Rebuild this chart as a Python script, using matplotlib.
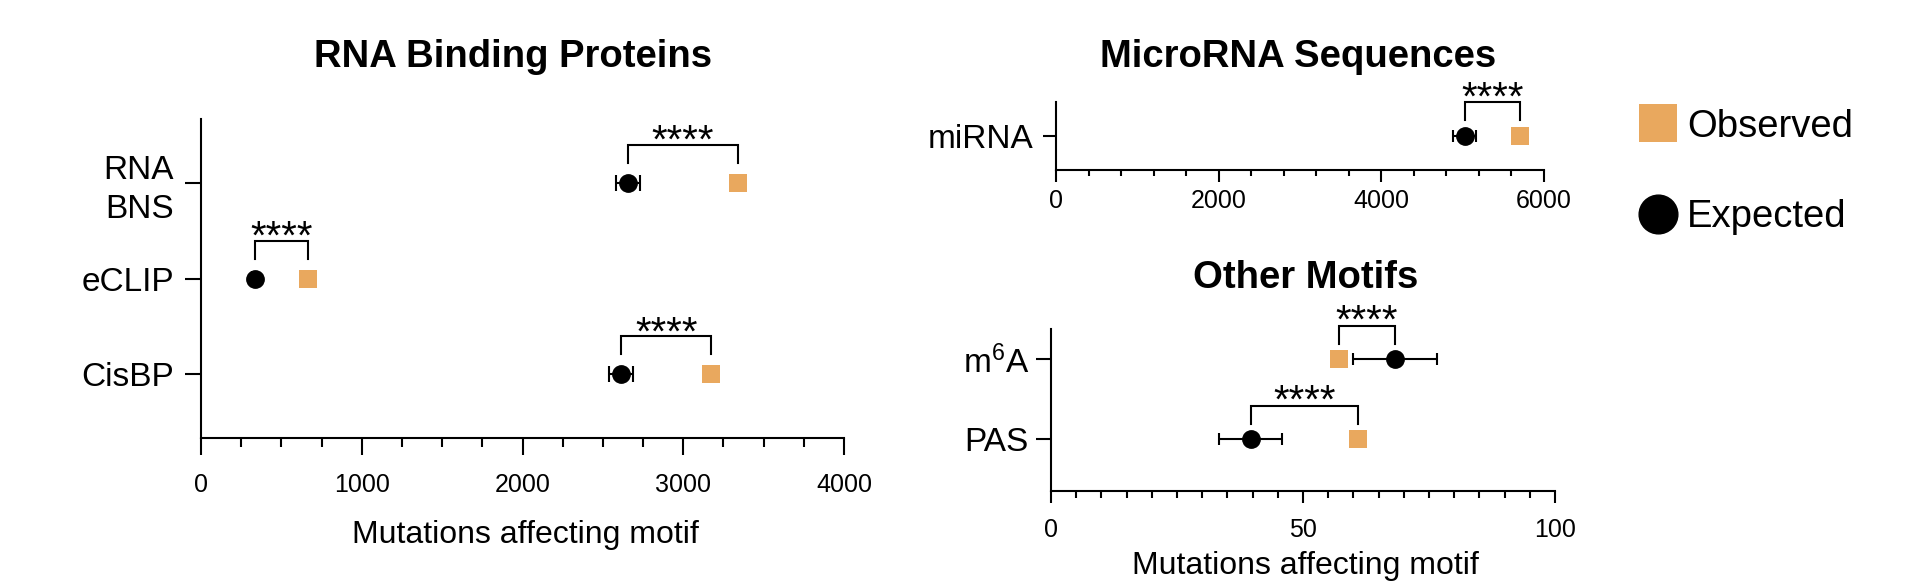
import matplotlib
matplotlib.use('Agg')
import matplotlib.pyplot as plt
from matplotlib.ticker import MultipleLocator

plt.rcParams['font.family'] = ['Liberation Sans', 'DejaVu Sans']
plt.rcParams['mathtext.fontset'] = 'custom'
plt.rcParams['mathtext.rm'] = 'Liberation Sans'
plt.rcParams['mathtext.default'] = 'regular'

# ---------------- data ----------------
rbp_categories = ['RNA\nBNS', 'eCLIP', 'CisBP']
rbp_observed = [3340, 667, 3175]
rbp_expected = [2655, 333, 2615]
rbp_expected_err = [75, 15, 75]

mirna_categories = ['miRNA']
mirna_observed = [5700]
mirna_expected = [5025]
mirna_expected_err = [145]

other_categories = ['m$^{6}$A', 'PAS']
other_observed = [57.1, 61.0]
other_expected = [68.2, 39.6]
other_expected_err = [8.3, 6.3]

significance = ['****', '****', '****']
titles = ['RNA Binding Proteins', 'MicroRNA Sequences', 'Other Motifs']
xlabel = 'Mutations affecting motif'
legend_labels = ['Observed', 'Expected']

# ---------------- style ----------------
W, H, DPI = 1920, 585, 100
ORANGE = '#E9A85E'
LW = 1.5

fig = plt.figure(figsize=(W / DPI, H / DPI), dpi=DPI)

def px_axes(x0, x1, ytop, ybot):
    return fig.add_axes([x0 / W, 1 - ybot / H, (x1 - x0) / W, (ybot - ytop) / H])

axL = px_axes(201, 844, 119, 438)
axT = px_axes(1056, 1544, 102, 170)
axB = px_axes(1051, 1555, 329, 491)


def panel(ax, cats, obs, exp, err, ylim, xlim, major, minor, capsize,
          maj_len, min_len, ylen, ypad, xpad, brk, stars):
    ys = list(range(len(cats)))
    ax.errorbar(exp, ys, xerr=err, fmt='none', ecolor='black', elinewidth=LW,
                capsize=capsize, capthick=LW, zorder=2)
    h_exp, = ax.plot(exp, ys, 'o', color='black', markersize=12.5, zorder=3,
                     label=legend_labels[1])
    h_obs, = ax.plot(obs, ys, 's', color=ORANGE, markersize=12.5, zorder=3,
                     label=legend_labels[0], markeredgewidth=0)
    ax.set_xlim(*xlim)
    ax.set_ylim(*ylim)
    ax.set_yticks(ys)
    ax.set_yticklabels(cats, fontsize=24, linespacing=1.3)
    ax.xaxis.set_major_locator(MultipleLocator(major))
    ax.xaxis.set_minor_locator(MultipleLocator(minor))
    for s in ['top', 'right']:
        ax.spines[s].set_visible(False)
    for s in ['left', 'bottom']:
        ax.spines[s].set_linewidth(LW)
    ax.tick_params(axis='y', length=ylen, width=LW, pad=ypad, direction='out')
    ax.tick_params(axis='x', which='major', length=maj_len, width=LW,
                   labelsize=18, pad=xpad, direction='out')
    ax.tick_params(axis='x', which='minor', length=min_len, width=LW,
                   direction='out')
    # brackets with stars
    pos = ax.get_position()
    ppu = pos.height * H / abs(ylim[0] - ylim[1])
    top_px, leg_px, star_px = brk
    for y, x1, x2, st in zip(ys, exp, obs, stars):
        yt = y - top_px / ppu
        yl = y - leg_px / ppu
        ax.plot([x1, x1, x2, x2], [yl, yt, yt, yl], color='black', lw=LW,
                clip_on=False, solid_joinstyle='miter', zorder=4)
        ax.text((x1 + x2) / 2, y - star_px / ppu, st, ha='center',
                va='baseline', fontsize=29, clip_on=False)
    return h_obs, h_exp


h_obs, h_exp = panel(axL, rbp_categories, rbp_observed, rbp_expected,
                     rbp_expected_err, (2.667, -0.667), (0, 4000), 1000, 250,
                     5.8, 12, 6.5, 11.5, 8, 13, (38, 20, 30), significance)
panel(axT, mirna_categories, mirna_observed, mirna_expected, mirna_expected_err,
      (0.5, -0.5), (0, 6000), 2000, 400, 4, 8.5, 4.5, 9.5, 6.5, 5.3,
      (34, 15.5, 26), significance[:1])
panel(axB, other_categories, other_observed, other_expected, other_expected_err,
      (1.65, -0.375), (0, 100), 50, 5, 4, 8.5, 4.8, 10.5, 5.5, 11,
      (33.5, 15.5, 26), significance[:2])

axL.set_xlabel(xlabel, fontsize=23)
axL.xaxis.set_label_coords(0.505, -(519.6 - 438) / 319)
axB.set_xlabel(xlabel, fontsize=23)
axB.xaxis.set_label_coords(0.505, -(551.3 - 491) / 162)

# titles
fig.text(513 / W, 1 - 66.7 / H, titles[0], ha='center', va='baseline',
         fontsize=27.5, fontweight='bold')
fig.text(1298.5 / W, 1 - 66.7 / H, titles[1], ha='center', va='baseline',
         fontsize=27.5, fontweight='bold')
fig.text(1306 / W, 1 - 288 / H, titles[2], ha='center', va='baseline',
         fontsize=27.5, fontweight='bold')

fig.legend(handles=[h_obs, h_exp], labels=legend_labels, loc='upper left',
           bbox_to_anchor=(1638.5 / W, 1 - 108.6 / H), frameon=False,
           fontsize=27.5, markerscale=2.23, handlelength=1.0,
           handletextpad=0.27, labelspacing=1.437, borderpad=0,
           borderaxespad=0, numpoints=1)

fig.savefig('out.png', dpi=DPI)
